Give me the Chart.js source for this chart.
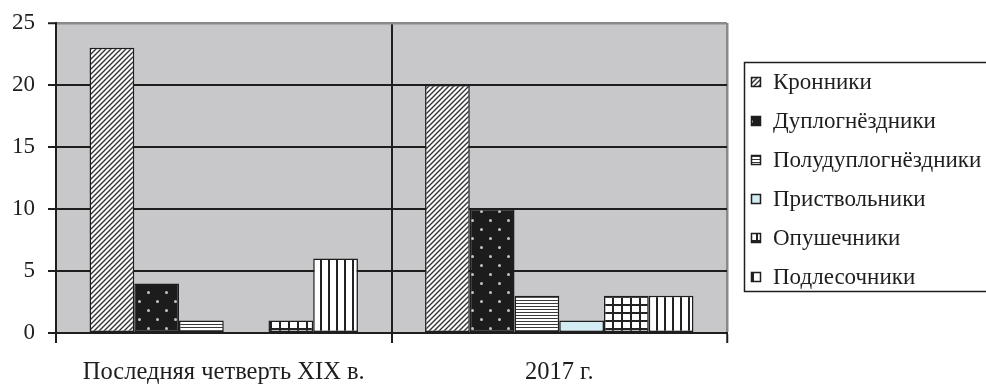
<!DOCTYPE html>
<html>
<head>
<meta charset="utf-8">
<script src="https://cdn.jsdelivr.net/npm/chart.js@4/dist/chart.umd.min.js"></script>
<style>
  html, body { margin: 0; padding: 0; background: #fff; }
  canvas { display: block; }
</style>
</head>
<body>
<canvas id="c" width="986" height="385"></canvas>
<script>
// Bird nesting groups, counts per period
const categories = ['Последняя четверть XIX в.', '2017 г.'];
const seriesNames = ['Кронники', 'Дуплогнёздники', 'Полудуплогнёздники', 'Приствольники', 'Опушечники', 'Подлесочники'];
const kronniki = [23, 20];
const duplognezdniki = [4, 10];
const poluduplognezdniki = [1, 3];
const pristvolniki = [0, 1];
const opushechniki = [1, 3];
const podlesochniki = [6, 3];
const yTicks = [0, 5, 10, 15, 20, 25];

const INK = '#1e1e1e';
const FONT = '"Liberation Serif", "Times New Roman", "DejaVu Serif", serif';

// ---- fill patterns ----
function makeTile(w, h, paint) {
  const cv = document.createElement('canvas');
  cv.width = w; cv.height = h;
  const g = cv.getContext('2d');
  paint(g, w, h);
  return document.createElement('canvas').getContext('2d').createPattern(cv, 'repeat');
}
const diagonal = makeTile(5, 5, (g, w, h) => {
  g.fillStyle = '#fff'; g.fillRect(0, 0, w, h);
  g.strokeStyle = '#333'; g.lineWidth = 1.4;
  g.beginPath();
  g.moveTo(-1, h + 1); g.lineTo(w + 1, -1);
  g.moveTo(-1, 1); g.lineTo(1, -1);
  g.moveTo(w - 1, h + 1); g.lineTo(w + 1, h - 1);
  g.stroke();
});
const dotted = makeTile(18, 18, (g, w, h) => {
  g.fillStyle = '#1c1c1c'; g.fillRect(0, 0, w, h);
  g.fillStyle = '#c4c4c4';
  g.beginPath(); g.arc(4.5, 4.5, 1.5, 0, Math.PI * 2); g.fill();
  g.beginPath(); g.arc(13.5, 13.5, 1.5, 0, Math.PI * 2); g.fill();
});
const horizontal = makeTile(4, 3, (g, w, h) => {
  g.fillStyle = '#fff'; g.fillRect(0, 0, w, h);
  g.fillStyle = '#3a3a3a'; g.fillRect(0, 0, w, 1);
});
const lightBlue = '#d3ecf3';
const grid = makeTile(9, 8, (g, w, h) => {
  g.fillStyle = '#fff'; g.fillRect(0, 0, w, h);
  g.fillStyle = '#222';
  g.fillRect(0, 0, 2, h);
  g.fillRect(0, 0, w, 2);
});
const vertical = makeTile(8, 4, (g, w, h) => {
  g.fillStyle = '#fff'; g.fillRect(0, 0, w, h);
  g.fillStyle = '#222'; g.fillRect(0, 0, 2, h);
});

const seriesValues = [kronniki, duplognezdniki, poluduplognezdniki, pristvolniki, opushechniki, podlesochniki];
const seriesFills = [diagonal, dotted, horizontal, lightBlue, grid, vertical];

const datasets = seriesNames.map((name, i) => ({
  label: name,
  data: seriesValues[i],
  backgroundColor: seriesFills[i],
  borderColor: INK,
  borderWidth: 1.5,
  borderSkipped: false,
  categoryPercentage: 0.8,
  barPercentage: 1.0
}));

// gray plot background
const plotBackground = {
  id: 'plotBackground',
  beforeDraw(chart) {
    const { ctx, chartArea: a } = chart;
    ctx.save();
    ctx.fillStyle = '#c8c8ca';
    ctx.fillRect(a.left, a.top, a.right - a.left, a.bottom - a.top);
    ctx.restore();
  }
};

// boxed legend on the right
const legendLayout = { left: 744, top: 62, bottom: 291, right: 992, firstRow: 81.5, rowStep: 39, iconX: 751, icon: 10, textX: 773 };
const sideLegend = {
  id: 'sideLegend',
  afterDraw(chart) {
    const { ctx } = chart;
    const L = legendLayout;
    ctx.save();
    ctx.strokeStyle = INK;
    ctx.lineWidth = 1.5;
    ctx.strokeRect(L.left + 0.5, L.top + 0.5, L.right - L.left, L.bottom - L.top);
    ctx.font = '23px ' + FONT;
    ctx.textBaseline = 'middle';
    ctx.textAlign = 'left';
    chart.data.datasets.forEach((ds, i) => {
      const cy = L.firstRow + i * L.rowStep;
      const x = L.iconX, y = Math.round(cy - L.icon / 2);
      ctx.fillStyle = ds.backgroundColor;
      ctx.fillRect(x, y, L.icon, L.icon);
      ctx.strokeStyle = INK;
      ctx.lineWidth = 1.5;
      ctx.strokeRect(x + 0.5, y + 0.5, L.icon - 1, L.icon - 1);
      ctx.fillStyle = INK;
      ctx.fillText(ds.label, L.textX, cy + 1);
    });
    ctx.restore();
  }
};

new Chart(document.getElementById('c'), {
  type: 'bar',
  data: { labels: categories, datasets },
  plugins: [plotBackground, sideLegend],
  options: {
    responsive: false,
    animation: false,
    devicePixelRatio: 1,
    layout: { padding: { left: 0, right: 259, top: 23, bottom: 0 } },
    plugins: { legend: { display: false }, tooltip: { enabled: false } },
    scales: {
      x: {
        offset: true,
        grid: {
          offset: true,
          drawOnChartArea: true,
          color: (c) => (c.tick === undefined || c.index === undefined) ? '#8a8a8a' : INK,
          lineWidth: (c) => (c.tick === undefined || c.index === undefined) ? 2.5 : 2,
          tickColor: INK,
          tickLength: 10,
          tickWidth: 2
        },
        border: { display: true, color: INK, width: 2 },
        ticks: {
          color: INK,
          font: { family: FONT, size: 24.5 },
          padding: 15,
          maxRotation: 0
        },
        afterFit(scale) { scale.height = 52; }
      },
      y: {
        min: 0,
        max: 25,
        afterBuildTicks(scale) { scale.ticks = yTicks.map(v => ({ value: v })); },
        grid: {
          color: (c) => c.tick && c.tick.value === 25 ? '#8a8a8a' : INK,
          lineWidth: (c) => c.tick && c.tick.value === 25 ? 2.5 : 2,
          tickColor: INK,
          tickLength: 8,
          tickWidth: 2
        },
        border: { display: true, color: INK, width: 2 },
        ticks: {
          color: INK,
          font: { family: FONT, size: 23 },
          padding: 13
        },
        afterFit(scale) {
          scale.width = 56;
          scale.paddingTop = 0;
          scale.paddingBottom = 0;
        }
      }
    }
  }
});
</script>
</body>
</html>
